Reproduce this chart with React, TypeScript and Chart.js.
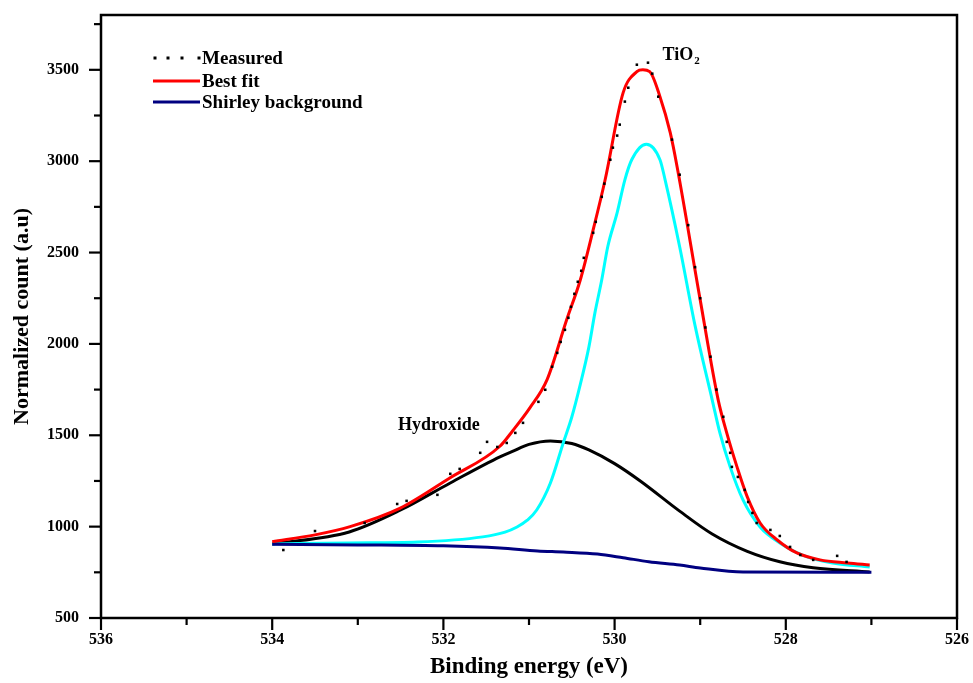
import React, { useEffect, useRef } from 'react';
import { Chart, registerables } from 'chart.js';

Chart.register(...registerables);

// ---- Data (binding energy in eV, normalized counts) ----
const measuredEnergy = [
  533.87, 533.5, 532.92, 532.54, 532.43, 532.07, 531.92, 531.81, 531.57, 531.49,
  531.37, 531.26, 531.16, 531.07, 530.89, 530.81, 530.73, 530.67, 530.63, 530.58,
  530.54, 530.51, 530.47, 530.43, 530.39, 530.36, 530.25, 530.22, 530.15, 530.12,
  530.05, 530.02, 529.97, 529.94, 529.88, 529.84, 529.74, 529.61, 529.56, 529.49,
  529.33, 529.24, 529.14, 529.06, 529.0, 528.94, 528.88, 528.81, 528.73, 528.69,
  528.65, 528.63, 528.56, 528.48, 528.44, 528.39, 528.34, 528.18, 528.07, 527.95,
  527.83, 527.68, 527.4, 527.29,
];
const measuredCounts = [
  872, 976, 1020, 1124, 1141, 1174, 1289, 1316, 1404, 1464,
  1436, 1458, 1513, 1568, 1683, 1749, 1875, 1951, 2011, 2077,
  2143, 2203, 2274, 2340, 2400, 2471, 2608, 2668, 2805, 2877,
  3008, 3074, 3140, 3200, 3326, 3402, 3528, 3539, 3479, 3353,
  3118, 2926, 2650, 2420, 2250, 2090, 1930, 1750, 1601, 1464,
  1404, 1327, 1272, 1201, 1135, 1075, 1020, 982, 949, 889,
  845, 818, 840, 807,
];

const fitEnergy = [
  534.0, 533.5, 533.09, 532.51, 531.93, 531.34, 531.19, 530.99, 530.79, 530.56,
  530.4, 530.25, 530.11, 529.9, 529.74, 529.67, 529.59, 529.47, 529.35, 529.27,
  529.0, 528.79, 528.69, 528.57, 528.45, 528.3, 528.1, 527.87, 527.6, 527.28, 527.02,
];
const fitCounts = [
  918, 955, 1000, 1100, 1265, 1440, 1525, 1650, 1803, 2132,
  2351, 2625, 2900, 3375, 3490, 3500, 3490, 3353, 3156, 2970,
  2241, 1694, 1513, 1327, 1163, 1020, 927, 856, 818, 801, 790,
];

const tio2Energy = [
  534.0, 533.1, 532.3, 531.54, 531.28, 531.14, 531.02, 530.91, 530.75, 530.6,
  530.5, 530.4, 530.3, 530.23, 530.15, 530.08, 529.97, 529.88, 529.8, 529.63,
  529.47, 529.41, 529.24, 529.06, 528.86, 528.77, 528.65, 528.5, 528.3, 528.07,
  527.75, 527.45, 527.02,
];
const tio2Counts = [
  905, 911, 916, 944, 970, 998, 1035, 1091, 1239, 1458,
  1600, 1780, 1984, 2170, 2351, 2532, 2718, 2898, 3008, 3093,
  3008, 2898, 2532, 2100, 1694, 1513, 1327, 1146, 998, 911,
  834, 801, 779,
];

const hydroxideEnergy = [
  534.0, 533.1, 532.5, 531.92, 531.34, 531.2, 531.0, 530.75, 530.5, 530.3,
  530.0, 529.7, 529.24, 528.86, 528.45, 528.07, 527.68, 527.02,
];
const hydroxideCounts = [
  905, 971, 1091, 1239, 1382, 1410, 1450, 1469, 1455, 1420,
  1345, 1250, 1085, 960, 865, 808, 775, 752,
];

const shirleyEnergy = [
  534.0, 533.0, 532.0, 531.34, 530.9, 530.6, 530.2, 529.9, 529.6, 529.24,
  529.0, 528.5, 527.0,
];
const shirleyCounts = [
  903, 900, 895, 883, 867, 861, 850, 830, 808, 790,
  774, 752, 750,
];

const xTickValues = [536, 535, 534, 533, 532, 531, 530, 529, 528, 527, 526];
const xLabelValues = [536, 534, 532, 530, 528, 526];
const yTickValues = [500, 750, 1000, 1250, 1500, 1750, 2000, 2250, 2500, 2750, 3000, 3250, 3500, 3750];
const yLabelValues = [500, 1000, 1500, 2000, 2500, 3000, 3500];
const legendLabels = ['Measured', 'Best fit', 'Shirley background'];

const FONT = '"Liberation Serif", "Times New Roman", serif';

const pairs = (xs: number[], ys: number[]) => xs.map((x, i) => ({ x, y: ys[i] }));

const decorPlugin = {
  id: 'decor',
  afterDraw(chart: any) {
    const { ctx, chartArea: a, scales } = chart;
    const xs = scales.x;
    const ys = scales.y;
    ctx.save();
    ctx.strokeStyle = '#000';
    ctx.lineWidth = 2.5;
    ctx.strokeRect(a.left, a.top, a.right - a.left, a.bottom - a.top);

    ctx.lineWidth = 2.2;
    xTickValues.forEach((v) => {
      const major = xLabelValues.includes(v);
      const px = xs.getPixelForValue(v);
      ctx.beginPath();
      ctx.moveTo(px, a.bottom);
      ctx.lineTo(px, a.bottom + (major ? 12 : 7));
      ctx.stroke();
    });
    yTickValues.forEach((v) => {
      const major = yLabelValues.includes(v);
      const py = ys.getPixelForValue(v);
      ctx.beginPath();
      ctx.moveTo(a.left, py);
      ctx.lineTo(a.left - (major ? 12 : 7), py);
      ctx.stroke();
    });

    // legend
    const lx = a.left + 52;
    const rows = [a.top + 43, a.top + 66, a.top + 87];
    ctx.fillStyle = '#000';
    [0, 13, 27, 44].forEach((dx) => {
      ctx.fillRect(lx + 2 + dx - 1.5, rows[0] - 1.5, 3, 3);
    });
    ctx.lineWidth = 3;
    ctx.strokeStyle = '#ff0000';
    ctx.beginPath();
    ctx.moveTo(lx, rows[1]);
    ctx.lineTo(lx + 47, rows[1]);
    ctx.stroke();
    ctx.strokeStyle = '#000080';
    ctx.beginPath();
    ctx.moveTo(lx, rows[2]);
    ctx.lineTo(lx + 47, rows[2]);
    ctx.stroke();
    ctx.font = `bold 19px ${FONT}`;
    ctx.textBaseline = 'middle';
    ctx.textAlign = 'left';
    legendLabels.forEach((txt, i) => {
      ctx.fillText(txt, lx + 49, rows[i] + 1);
    });

    // annotations
    ctx.textBaseline = 'alphabetic';
    const tx = xs.getPixelForValue(529.44);
    const ty = ys.getPixelForValue(3555);
    ctx.font = `bold 18px ${FONT}`;
    ctx.fillText('TiO', tx, ty);
    const w = ctx.measureText('TiO').width;
    ctx.font = `bold 11px ${FONT}`;
    ctx.fillText('2', tx + w + 1, ty + 4);

    ctx.font = `bold 18px ${FONT}`;
    ctx.fillText('Hydroxide', xs.getPixelForValue(532.53), ys.getPixelForValue(1530));
    ctx.restore();
  },
};

export default function App() {
  const ref = useRef<HTMLCanvasElement | null>(null);

  useEffect(() => {
    if (!ref.current) return;
    const lineBase = {
      showLine: true,
      pointRadius: 0,
      borderWidth: 3,
      fill: false,
      cubicInterpolationMode: 'monotone' as const,
    };
    const chart = new Chart(ref.current, {
      type: 'scatter',
      data: {
        datasets: [
          {
            label: 'Measured',
            data: pairs(measuredEnergy, measuredCounts),
            showLine: false,
            pointStyle: 'rect',
            pointRadius: 1.8,
            backgroundColor: '#000',
            borderColor: '#000',
            borderWidth: 0,
          },
          { ...lineBase, label: 'Best fit', data: pairs(fitEnergy, fitCounts), borderColor: '#ff0000' },
          { ...lineBase, label: 'Shirley background', data: pairs(shirleyEnergy, shirleyCounts), borderColor: '#000080' },
          { ...lineBase, label: 'TiO2', data: pairs(tio2Energy, tio2Counts), borderColor: '#00ffff' },
          { ...lineBase, label: 'Hydroxide', data: pairs(hydroxideEnergy, hydroxideCounts), borderColor: '#000000' },
        ],
      },
      options: {
        responsive: false,
        animation: false,
        layout: { padding: { left: 0, right: 16, top: 15, bottom: 0 } },
        plugins: { legend: { display: false }, tooltip: { enabled: false } },
        scales: {
          x: {
            type: 'linear',
            reverse: true,
            min: 526,
            max: 536,
            border: { display: false },
            grid: { display: false, drawTicks: false },
            afterBuildTicks: (s: any) => {
              s.ticks = xTickValues.map((value) => ({ value }));
            },
            ticks: {
              autoSkip: false,
              maxRotation: 0,
              padding: 12,
              color: '#000',
              font: { family: FONT, size: 16, weight: 'bold' },
              callback: (v: any) => (xLabelValues.includes(Number(v)) ? String(v) : ''),
            },
            title: {
              display: true,
              text: 'Binding energy (eV)',
              color: '#000',
              font: { family: FONT, size: 23, weight: 'bold' },
              padding: { top: 0, bottom: 2 },
            },
            afterFit: (s: any) => {
              s.height = 65;
              s.paddingLeft = 0;
              s.paddingRight = 0;
            },
          },
          y: {
            type: 'linear',
            min: 500,
            max: 3800,
            border: { display: false },
            grid: { display: false, drawTicks: false },
            afterBuildTicks: (s: any) => {
              s.ticks = yTickValues.map((value) => ({ value }));
            },
            ticks: {
              autoSkip: false,
              padding: 22,
              color: '#000',
              font: { family: FONT, size: 16, weight: 'bold' },
              callback: (v: any) => (yLabelValues.includes(Number(v)) ? String(v) : ''),
            },
            title: {
              display: true,
              text: 'Normalized count (a.u)',
              color: '#000',
              font: { family: FONT, size: 22, weight: 'bold' },
              padding: { top: 9, bottom: 0 },
            },
            afterFit: (s: any) => {
              s.width = 101;
              s.paddingTop = 0;
              s.paddingBottom = 0;
            },
          },
        },
      },
      plugins: [decorPlugin],
    });
    return () => chart.destroy();
  }, []);

  return (
    <div style={{ position: 'absolute', left: 0, top: 0, width: 973, height: 683, background: '#fff' }}>
      <canvas ref={ref} width={973} height={683} style={{ display: 'block' }} />
    </div>
  );
}
